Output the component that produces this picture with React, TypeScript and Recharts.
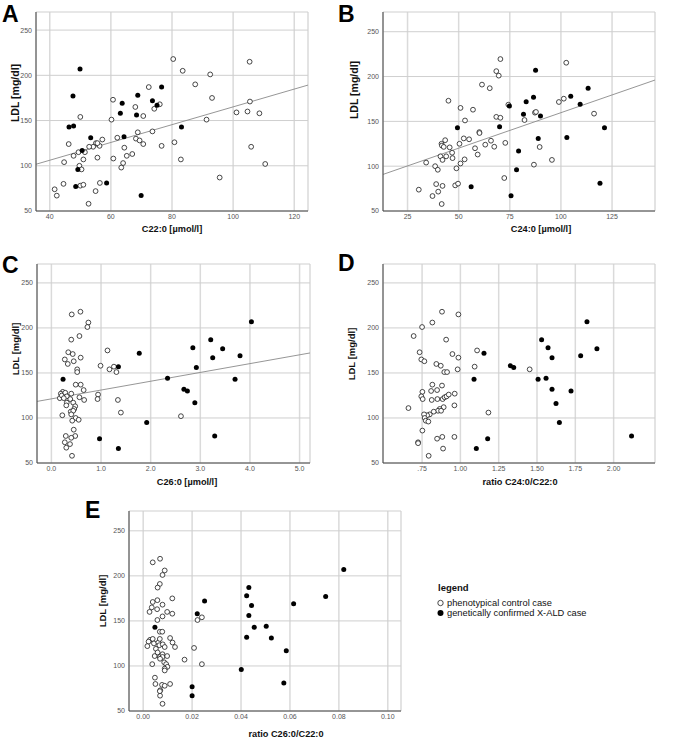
import React from 'react';
import { ScatterChart, Scatter, XAxis, YAxis, CartesianGrid, ReferenceLine } from 'recharts';

type Pt = [number, number];

// ---------- Panel A: C22:0 vs LDL ----------
const aControl: Pt[] = [[80.4,218],[83.5,205],[87.6,190],[92.5,201],[93.1,175],[105.4,215],[105.5,171],[101.1,159],[104.7,160],[108.6,158],[91.3,151],[105.9,121],[110.5,102],[95.6,87],[72.4,187],[74.2,163],[76.0,168],[70.6,155],[68.0,165],[60.7,173],[60.2,151],[50.0,154],[73.6,138],[68.8,137],[68.2,130],[69.4,128],[70.6,124],[76.6,122],[80.8,126],[82.9,107],[62.1,131],[64.4,120],[65.2,111],[67.0,113],[64.0,103],[63.4,98],[60.8,108],[57.2,129],[56.3,122],[55.1,125],[55.6,125],[54.2,121],[52.9,121],[51.5,115],[49.4,115],[47.8,111],[44.7,104],[46.2,124],[51.0,107],[49.7,100],[50.4,96],[55.6,109],[44.5,80],[41.6,74],[42.3,67],[50.0,78],[51.0,79],[56.4,81],[55.0,72],[52.7,58]];
const aXald: Pt[] = [[49.9,207],[47.6,177],[46.3,143],[47.8,144],[53.4,131],[50.6,117],[49.2,96],[48.5,77],[58.6,81],[69.9,67],[63.1,158],[63.7,169],[64.3,132],[68.4,156],[68.8,178],[73.6,172],[75.1,167],[76.6,187],[83.1,143]];
const aFit: Pt[] = [[35.5,101.7],[124.5,189.2]];
const aXTicks = [40, 60, 80, 100, 120];

// ---------- Panel B: C24:0 vs LDL ----------
const bControl: Pt[] = [[70.4,219.5],[68.4,206],[69.6,201],[61.4,191],[65.2,187],[45.0,173],[50.9,165],[57.0,163],[53.1,151],[68.4,155],[70.4,154],[74.3,168.6],[60.1,138],[60.2,137],[52.5,131],[55.1,130],[43.4,129],[50.4,125],[45.6,121],[41.6,125],[41.8,123],[42.7,121.5],[46.8,115],[47.0,109],[43.9,111],[41.1,111],[42.1,107],[52.9,107.6],[50.9,103],[48.9,97.6],[58.0,120],[59.3,113],[63.0,124],[65.8,128.4],[67.4,121.7],[72.8,126],[34.1,104],[38.5,100],[39.8,96],[39.0,80],[42.1,78],[48.3,78.6],[49.7,80.5],[40.0,71.6],[37.2,66.7],[41.7,57.8],[30.5,73.8],[72.3,86.8],[86.8,101.7],[95.6,107],[89.6,121.4],[87.3,159.7],[87.8,160.5],[82.2,151.5],[99.0,171.6],[101.4,175.3],[102.6,215.4],[116.2,158.6]];
const bXald: Pt[] = [[49.4,143],[56.1,77],[75.6,67],[78.3,96],[79.3,117],[70.0,144],[74.8,167],[83.0,172],[81.7,158],[86.6,177],[87.6,207],[90.0,156],[88.9,131],[102.9,132],[104.8,178],[109.4,169],[113.3,187],[121.3,143],[119.1,81]];
const bFit: Pt[] = [[13,90.8],[146,196.1]];
const bXTicks = [25, 50, 75, 100, 125];

// ---------- Panel C: C26:0 vs LDL ----------
const cControl: Pt[] = [[0.41,215],[0.585,218],[0.745,206],[0.725,201],[0.565,191],[0.40,187],[0.34,173],[0.43,171],[0.59,167],[0.27,165],[0.33,160],[0.45,163],[0.52,154],[0.52,151],[0.99,158],[1.13,175],[1.17,154],[1.26,157],[1.31,151],[0.59,137],[0.49,137],[0.65,131],[0.565,123],[0.66,120],[0.94,126],[0.93,121],[1.34,120],[0.23,129],[0.19,127],[0.17,122],[0.21,125],[0.28,128],[0.31,124],[0.38,121],[0.40,127],[0.25,122],[0.31,117],[0.30,114],[0.44,117],[0.48,113],[0.46,110],[0.39,107],[0.44,108],[0.40,104],[0.22,103],[0.49,100],[0.55,98],[0.42,97],[0.45,87],[0.29,80],[0.48,80],[0.40,78],[0.27,73],[0.375,71],[0.30,67],[0.415,58],[2.61,102],[1.40,106]];
const cXald: Pt[] = [[0.235,143],[0.97,77],[1.35,157],[1.35,66],[1.77,172],[1.92,95],[2.34,144],[2.67,132],[2.74,130],[2.85,178],[2.92,156],[2.89,117],[3.21,187],[3.25,167],[3.29,80],[3.45,177],[3.70,143],[3.80,169],[4.03,207]];
const cFit: Pt[] = [[-0.29,118.4],[5.21,172.2]];
const cXTicks = [0, 1, 2, 3, 4, 5];

// ---------- Panel D: ratio C24:0/C22:0 vs LDL ----------
const dControl: Pt[] = [[0.880,218],[0.987,215],[0.750,201],[0.817,206],[0.695,191],[0.907,187],[0.734,173],[0.745,165],[0.765,163],[0.948,171],[0.987,167],[1.109,175],[0.843,160],[0.872,158],[1.093,157],[0.895,151],[0.913,151],[0.982,154],[0.817,137],[0.880,136],[0.752,129],[0.745,124],[0.754,121],[0.809,130],[0.848,131],[0.813,120],[0.850,121],[0.884,121],[0.897,123],[0.910,124],[0.924,126],[0.963,127],[0.961,114],[0.891,112],[0.865,110],[0.854,108],[0.826,107],[0.874,108],[0.661,111],[0.800,104],[0.783,103],[0.763,104],[0.767,100],[0.774,97],[0.791,96],[0.752,86],[0.848,77],[0.882,79],[0.961,79],[0.724,73],[0.724,72],[0.887,66],[0.793,58],[1.452,154],[1.183,106]];
const dXald: Pt[] = [[1.089,143],[1.154,172],[1.104,66],[1.178,77],[1.326,158],[1.348,156],[1.507,143],[1.530,187],[1.572,178],[1.559,144],[1.598,167],[1.598,132],[1.624,116],[1.646,95],[1.722,130],[1.785,169],[1.826,207],[1.891,177],[2.117,80]];
const dXTicks = [0.75, 1.0, 1.25, 1.5, 1.75, 2.0];

// ---------- Panel E: ratio C26:0/C22:0 vs LDL ----------
const eControl: Pt[] = [[0.0039,215],[0.0069,219],[0.0088,206],[0.0079,201],[0.0068,191],[0.0059,187],[0.0119,175],[0.0039,171],[0.0058,173],[0.0079,168],[0.0035,165],[0.0057,163],[0.0026,160],[0.0098,160],[0.0119,158],[0.0079,155],[0.0058,151],[0.024,154],[0.0222,151],[0.0068,138],[0.0078,138],[0.0028,129],[0.0039,130],[0.0022,127],[0.0017,122],[0.0044,125],[0.0062,126],[0.0068,130],[0.0066,123],[0.008,124],[0.0088,121],[0.011,131],[0.012,126],[0.013,121],[0.0208,120],[0.0052,119],[0.0047,111],[0.0059,115],[0.0068,110],[0.0079,113],[0.0079,110],[0.0098,111],[0.0069,108],[0.0086,104],[0.0037,102],[0.0094,102],[0.0099,99],[0.0088,97],[0.0088,95],[0.0169,107],[0.024,102],[0.0048,87],[0.005,80],[0.0077,79],[0.0088,78],[0.011,80],[0.007,73],[0.0069,67],[0.0068,72],[0.0079,58]];
const eXald: Pt[] = [[0.0048,143],[0.020,77],[0.020,67],[0.0221,158],[0.0251,172],[0.0401,96],[0.0423,178],[0.0432,187],[0.0443,167],[0.0432,156],[0.0454,143],[0.0423,132],[0.0503,144],[0.0524,131],[0.0585,117],[0.0575,81],[0.0615,169],[0.0746,177],[0.082,207]];
const eXTicks = [0, 0.02, 0.04, 0.06, 0.08, 0.1];

const yTicks = [50, 100, 150, 200, 250];

const legendLabels = ['phenotypical control case', 'genetically confirmed X-ALD case'];

const FONT = '"Liberation Sans", Arial, sans-serif';

const toObj = (arr: Pt[]) => arr.map(([x, y]) => ({ x, y }));

const OpenDot = (p: any) => (
  <circle cx={p.cx} cy={p.cy} r={2.4} fill="#ffffff" stroke="#1a1a1a" strokeWidth={0.8} />
);
const FilledDot = (p: any) => <circle cx={p.cx} cy={p.cy} r={2.5} fill="#000000" />;

type PanelProps = {
  box: [number, number, number, number];
  plot: [number, number, number, number];
  xDomain: [number, number];
  yDomain: [number, number];
  xTicks: number[];
  xFmt: (v: number) => string;
  control: Pt[];
  xald: Pt[];
  fit?: Pt[];
};

function Panel({ box, plot, xDomain, yDomain, xTicks, xFmt, control, xald, fit }: PanelProps) {
  const [bx, by, bw, bh] = box;
  const [px0, py0, px1, py1] = plot;
  const tickStyle = { fontSize: 7, fill: '#555', fontFamily: FONT };
  return (
    <div style={{ position: 'absolute', left: bx, top: by, width: bw, height: bh }}>
      <ScatterChart
        width={bw}
        height={bh}
        margin={{ top: py0 - by, right: bx + bw - px1, left: 0, bottom: 0 }}
      >
        <CartesianGrid horizontal={false} stroke="#dadada" strokeWidth={1.5} />
        <CartesianGrid vertical={false} stroke="#cfcfcf" strokeWidth={1} />
        <XAxis
          type="number"
          dataKey="x"
          domain={xDomain}
          ticks={xTicks}
          allowDataOverflow
          interval={0}
          height={by + bh - py1}
          tickFormatter={xFmt}
          tick={tickStyle}
          tickLine={false}
          tickSize={1}
          tickMargin={2}
          axisLine={{ stroke: '#444', strokeWidth: 1 }}
        />
        <YAxis
          type="number"
          dataKey="y"
          domain={yDomain}
          ticks={yTicks}
          allowDataOverflow
          interval={0}
          width={px0 - bx}
          tick={tickStyle}
          tickLine={false}
          tickSize={2}
          tickMargin={2}
          axisLine={{ stroke: '#444', strokeWidth: 1 }}
        />
        {fit && (
          <ReferenceLine
            segment={[{ x: fit[0][0], y: fit[0][1] }, { x: fit[1][0], y: fit[1][1] }]}
            stroke="#8a8a8a"
            strokeWidth={0.9}
            ifOverflow="visible"
          />
        )}
        <Scatter data={toObj(control)} shape={OpenDot} isAnimationActive={false} />
        <Scatter data={toObj(xald)} shape={FilledDot} isAnimationActive={false} />
      </ScatterChart>
    </div>
  );
}

const fmtInt = (v: number) => String(Math.round(v));
const fmt1 = (v: number) => v.toFixed(1);
const fmtRatio = (v: number) => v.toFixed(2).replace(/^0\./, '.');
const fmt2 = (v: number) => v.toFixed(2);

export default function App() {
  const letter = { fontFamily: FONT, fontWeight: 700, fontSize: 23, fill: '#000' } as const;
  const yLab = (size: number) => ({ fontFamily: FONT, fontWeight: 700, fontSize: size, fill: '#111' });
  return (
    <div style={{ position: 'absolute', left: 0, top: 0, width: 673, height: 740, background: '#fff', fontFamily: FONT }}>
      <Panel box={[0, 0, 336, 240]} plot={[36, 12, 308, 211]} xDomain={[35.5, 124.5]} yDomain={[50, 270]}
        xTicks={aXTicks} xFmt={fmtInt} control={aControl} xald={aXald} fit={aFit} />
      <Panel box={[336, 0, 337, 240]} plot={[383, 12, 655, 211]} xDomain={[13, 146]} yDomain={[50, 272]}
        xTicks={bXTicks} xFmt={fmtInt} control={bControl} xald={bXald} fit={bFit} />
      <Panel box={[0, 240, 336, 250]} plot={[37, 264, 310, 463]} xDomain={[-0.29, 5.21]} yDomain={[50, 271]}
        xTicks={cXTicks} xFmt={fmt1} control={cControl} xald={cXald} fit={cFit} />
      <Panel box={[336, 240, 337, 250]} plot={[383, 264, 655, 463]} xDomain={[0.495, 2.27]} yDomain={[50, 271]}
        xTicks={dXTicks} xFmt={fmtRatio} control={dControl} xald={dXald} />
      <Panel box={[70, 490, 340, 250]} plot={[129, 511, 401, 711]} xDomain={[-0.0058, 0.1054]} yDomain={[50, 272]}
        xTicks={eXTicks} xFmt={fmt2} control={eControl} xald={eXald} />

      <svg width={673} height={740} style={{ position: 'absolute', left: 0, top: 0, pointerEvents: 'none' }}>
        {/* panel letters */}
        <text x={2} y={22} {...letter}>A</text>
        <text x={338} y={22} {...letter}>B</text>
        <text x={2} y={273} {...letter}>C</text>
        <text x={338} y={271} {...letter}>D</text>
        <text x={85} y={518} {...letter}>E</text>

        {/* y axis titles */}
        <text x={15} y={93} transform="rotate(-90 15 93)" textAnchor="middle" dominantBaseline="central" {...yLab(10.5)}>LDL [mg/dl]</text>
        <text x={354} y={90} transform="rotate(-90 354 90)" textAnchor="middle" dominantBaseline="central" {...yLab(10.5)}>LDL [mg/dl]</text>
        <text x={15} y={349} transform="rotate(-90 15 349)" textAnchor="middle" dominantBaseline="central" {...yLab(9.5)}>LDL [mg/dl]</text>
        <text x={351} y={354} transform="rotate(-90 351 354)" textAnchor="middle" dominantBaseline="central" {...yLab(9.5)}>LDL [mg/dl]</text>
        <text x={102} y={601} transform="rotate(-90 102 601)" textAnchor="middle" dominantBaseline="central" {...yLab(9.5)}>LDL [mg/dl]</text>

        {/* x axis titles */}
        <text x={172} y={229} textAnchor="middle" dominantBaseline="central" {...yLab(9.2)}>C22:0 [µmol/l]</text>
        <text x={541} y={229} textAnchor="middle" dominantBaseline="central" {...yLab(9.2)}>C24:0 [µmol/l]</text>
        <text x={187} y={482} textAnchor="middle" dominantBaseline="central" {...yLab(9.2)}>C26:0 [µmol/l]</text>
        <text x={520} y={482} textAnchor="middle" dominantBaseline="central" {...yLab(9.2)}>ratio C24:0/C22:0</text>
        <text x={286} y={734} textAnchor="middle" dominantBaseline="central" {...yLab(9.2)}>ratio C26:0/C22:0</text>

        {/* legend */}
        <text x={438} y={587} dominantBaseline="central" fontFamily={FONT} fontWeight={700} fontSize={9.5} fill="#111">legend</text>
        <circle cx={440.5} cy={603} r={2.7} fill="#fff" stroke="#222" strokeWidth={0.8} />
        <text x={447} y={603} dominantBaseline="central" fontFamily={FONT} fontSize={9.3} fill="#111">{legendLabels[0]}</text>
        <circle cx={440.5} cy={613} r={3} fill="#000" />
        <text x={447} y={613} dominantBaseline="central" fontFamily={FONT} fontSize={9.3} fill="#111">{legendLabels[1]}</text>
      </svg>
    </div>
  );
}
